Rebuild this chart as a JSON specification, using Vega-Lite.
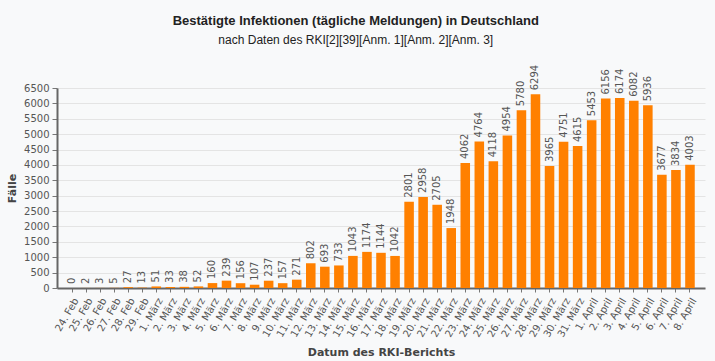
{
  "$schema": "https://vega.github.io/schema/vega-lite/v6.json",
  "autosize": "none",
  "width": 648,
  "height": 200,
  "padding": {"left": 57, "top": 88, "right": 10, "bottom": 73},
  "background": "#f8f9fa",
  "title": {
    "text": "Bestätigte Infektionen (tägliche Meldungen) in Deutschland",
    "subtitle": "nach Daten des RKI[2][39][Anm. 1][Anm. 2][Anm. 3]",
    "anchor": "middle",
    "frame": "bounds",
    "font": "Liberation Sans",
    "fontSize": 13,
    "fontWeight": "bold",
    "color": "#222222",
    "subtitleFont": "Liberation Sans",
    "subtitleFontSize": 12,
    "subtitleColor": "#222222",
    "subtitlePadding": 7,
    "offset": 19
  },
  "config": {
    "view": {"stroke": null},
    "axis": {
      "labelFont": "DejaVu Sans",
      "labelFontSize": 10,
      "labelColor": "#555555",
      "titleFont": "DejaVu Sans",
      "titleFontSize": 11,
      "titleFontWeight": "bold",
      "titleColor": "#444444",
      "domainColor": "#666666",
      "domainWidth": 2,
      "tickColor": "#777777",
      "gridColor": "#e4e4e4"
    }
  },
  "data": {
    "values": [
      {"datum": "24. Feb", "faelle": 0},
      {"datum": "25. Feb", "faelle": 2},
      {"datum": "26. Feb", "faelle": 3},
      {"datum": "27. Feb", "faelle": 5},
      {"datum": "28. Feb", "faelle": 27},
      {"datum": "29. Feb", "faelle": 13},
      {"datum": "1. März", "faelle": 51},
      {"datum": "2. März", "faelle": 33},
      {"datum": "3. März", "faelle": 38},
      {"datum": "4. März", "faelle": 52},
      {"datum": "5. März", "faelle": 160},
      {"datum": "6. März", "faelle": 239},
      {"datum": "7. März", "faelle": 156},
      {"datum": "8. März", "faelle": 107},
      {"datum": "9. März", "faelle": 237},
      {"datum": "10. März", "faelle": 157},
      {"datum": "11. März", "faelle": 271},
      {"datum": "12. März", "faelle": 802},
      {"datum": "13. März", "faelle": 693},
      {"datum": "14. März", "faelle": 733},
      {"datum": "15. März", "faelle": 1043},
      {"datum": "16. März", "faelle": 1174},
      {"datum": "17. März", "faelle": 1144},
      {"datum": "18. März", "faelle": 1042},
      {"datum": "19. März", "faelle": 2801},
      {"datum": "20. März", "faelle": 2958},
      {"datum": "21. März", "faelle": 2705},
      {"datum": "22. März", "faelle": 1948},
      {"datum": "23. März", "faelle": 4062},
      {"datum": "24. März", "faelle": 4764},
      {"datum": "25. März", "faelle": 4118},
      {"datum": "26. März", "faelle": 4954},
      {"datum": "27. März", "faelle": 5780},
      {"datum": "28. März", "faelle": 6294},
      {"datum": "29. März", "faelle": 3965},
      {"datum": "30. März", "faelle": 4751},
      {"datum": "31. März", "faelle": 4615},
      {"datum": "1. April", "faelle": 5453},
      {"datum": "2. April", "faelle": 6156},
      {"datum": "3. April", "faelle": 6174},
      {"datum": "4. April", "faelle": 6082},
      {"datum": "5. April", "faelle": 5936},
      {"datum": "6. April", "faelle": 3677},
      {"datum": "7. April", "faelle": 3834},
      {"datum": "8. April", "faelle": 4003}
    ]
  },
  "encoding": {
    "x": {
      "field": "datum",
      "type": "ordinal",
      "sort": null,
      "scale": {"paddingInner": 0.32, "paddingOuter": 0.73},
      "axis": {
        "title": "Datum des RKI-Berichts",
        "labelAngle": -60,
        "labelAlign": "right",
        "labelBaseline": "top",
        "tickSize": 4,
        "labelPadding": 4,
        "titlePadding": 8
      }
    },
    "y": {
      "field": "faelle",
      "type": "quantitative",
      "scale": {"domain": [0, 6500], "nice": false},
      "axis": {
        "title": "Fälle",
        "format": "d",
        "values": [0, 500, 1000, 1500, 2000, 2500, 3000, 3500, 4000, 4500, 5000, 5500, 6000, 6500],
        "tickSize": 5,
        "labelPadding": 3,
        "titlePadding": 6
      }
    }
  },
  "layer": [
    {
      "mark": {"type": "bar", "color": "#ff8000"}
    },
    {
      "mark": {
        "type": "text",
        "angle": 270,
        "align": "left",
        "baseline": "middle",
        "dx": 4,
        "font": "DejaVu Sans",
        "fontSize": 10,
        "color": "#555555"
      },
      "encoding": {
        "text": {"field": "faelle", "type": "quantitative", "format": "d"}
      }
    }
  ]
}
